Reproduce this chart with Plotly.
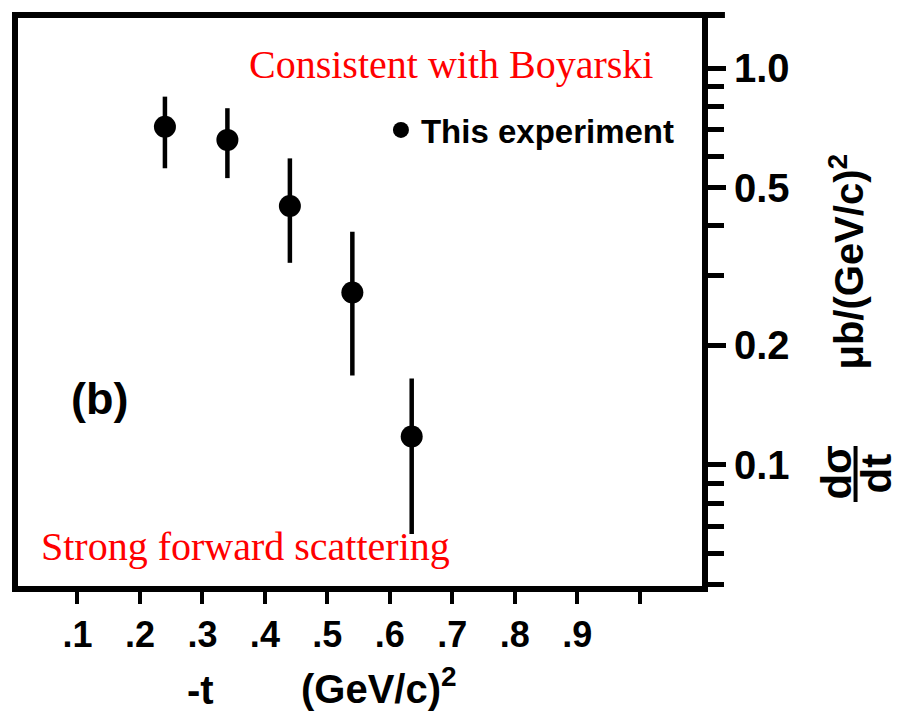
import plotly.graph_objects as go

# Data
t_vals = [0.24, 0.34, 0.44, 0.54, 0.635]
dsdt = [0.711, 0.659, 0.449, 0.272, 0.118]
err_hi = [0.847, 0.792, 0.592, 0.387, 0.165]
err_lo = [0.559, 0.528, 0.323, 0.168, 0.067]

x_tickvals = [0.1, 0.2, 0.3, 0.4, 0.5, 0.6, 0.7, 0.8, 0.9]
x_ticktext = [".1", ".2", ".3", ".4", ".5", ".6", ".7", ".8", ".9"]
x_minor_vals = [1.0, 1.1]
y_tickvals = [0.1, 0.2, 0.5, 1.0]
y_ticktext = ["0.1", "0.2", "0.5", "1.0"]
y_minor_vals = [0.05, 0.06, 0.07, 0.08, 0.09, 0.3, 0.4, 0.6, 0.7, 0.8, 0.9]

plus = [h - v for h, v in zip(err_hi, dsdt)]
minus = [v - l for v, l in zip(dsdt, err_lo)]

# plot-area geometry in pixels
L, R, T, B = 16, 702, 18, 586
W, H = 903, 721
def px(x):
    return (x - L) / (R - L)
def py(y):
    return (B - y) / (B - T)

SANS = "Liberation Sans, Arial, sans-serif"
SERIF = "Liberation Serif, Times New Roman, serif"

fig = go.Figure()
fig.add_trace(go.Scatter(
    x=t_vals, y=dsdt, mode="markers", name="This experiment",
    marker=dict(color="black", size=22, symbol="circle"),
    error_y=dict(type="data", symmetric=False, array=plus, arrayminus=minus,
                 color="black", thickness=4.5, width=0),
    showlegend=True,
))

fig.update_layout(
    width=W, height=H,
    margin=dict(l=L, r=W - R, t=T, b=H - B, pad=0),
    paper_bgcolor="white", plot_bgcolor="white",
    showlegend=True,
    legend=dict(x=px(380), y=py(130), xanchor="left", yanchor="middle",
                font=dict(family=SANS, size=33, color="black", weight="bold"),
                bgcolor="rgba(0,0,0,0)", itemsizing="trace"),
    xaxis=dict(range=[0.0048, 1.0997], tickmode="array",
               tickvals=x_tickvals, ticktext=x_ticktext,
               ticks="outside", ticklen=12, tickwidth=4, tickcolor="black",
               minor=dict(tickmode="array", tickvals=x_minor_vals, ticks="outside",
                          ticklen=12, tickwidth=4, tickcolor="black", showgrid=False),
               showline=True, linewidth=6, linecolor="black", mirror=True,
               showgrid=False, zeroline=False,
               tickfont=dict(family=SANS, size=36, color="black", weight="bold")),
    yaxis=dict(type="log", range=[-1.305, 0.126], side="right", tickmode="array",
               tickvals=y_tickvals, ticktext=y_ticktext,
               ticks="outside", ticklen=18, tickwidth=5, tickcolor="black",
               minor=dict(tickmode="array", tickvals=y_minor_vals, ticks="outside",
                          ticklen=16, tickwidth=5, tickcolor="black", showgrid=False),
               showline=True, linewidth=6, linecolor="black", mirror=True,
               showgrid=False, zeroline=False,
               tickfont=dict(family=SANS, size=40, color="black", weight="bold")),
)

ann = []
ann.append(dict(text="Consistent with Boyarski", x=px(450), y=py(65),
                font=dict(family=SERIF, size=40, color="red")))
ann.append(dict(text="Strong forward scattering", x=px(244), y=py(546),
                font=dict(family=SERIF, size=40, color="red")))
ann.append(dict(text="(b)", x=px(98), y=py(398),
                font=dict(family=SANS, size=45, color="black", weight="bold")))
ann.append(dict(text="-t", x=px(199), y=py(690),
                font=dict(family=SANS, size=40, color="black", weight="bold")))
ann.append(dict(text="(GeV/c)<sup>2</sup>", x=px(378), y=py(686),
                font=dict(family=SANS, size=40, color="black", weight="bold")))
ann.append(dict(text="μb/(GeV/c)<sup>2</sup>", x=px(847), y=py(262), textangle=-90,
                font=dict(family=SANS, size=40, color="black", weight="bold")))
ann.append(dict(text="dσ", x=px(836), y=py(473), textangle=-90,
                font=dict(family=SANS, size=42, color="black", weight="bold")))
ann.append(dict(text="dt", x=px(877), y=py(473), textangle=-90,
                font=dict(family=SANS, size=42, color="black", weight="bold")))
for a in ann:
    a.update(xref="paper", yref="paper", showarrow=False, xanchor="center", yanchor="middle")
fig.update_layout(annotations=ann)

# fraction bar of dσ/dt and the short stub of the top frame past the right axis
fig.add_shape(type="line", xref="paper", yref="paper",
              x0=px(856), x1=px(856), y0=py(446), y1=py(502),
              line=dict(color="black", width=4))
fig.add_shape(type="line", xref="paper", yref="paper",
              x0=1, x1=px(725), y0=py(15), y1=py(15),
              line=dict(color="black", width=6))

fig.write_html("out.html")
